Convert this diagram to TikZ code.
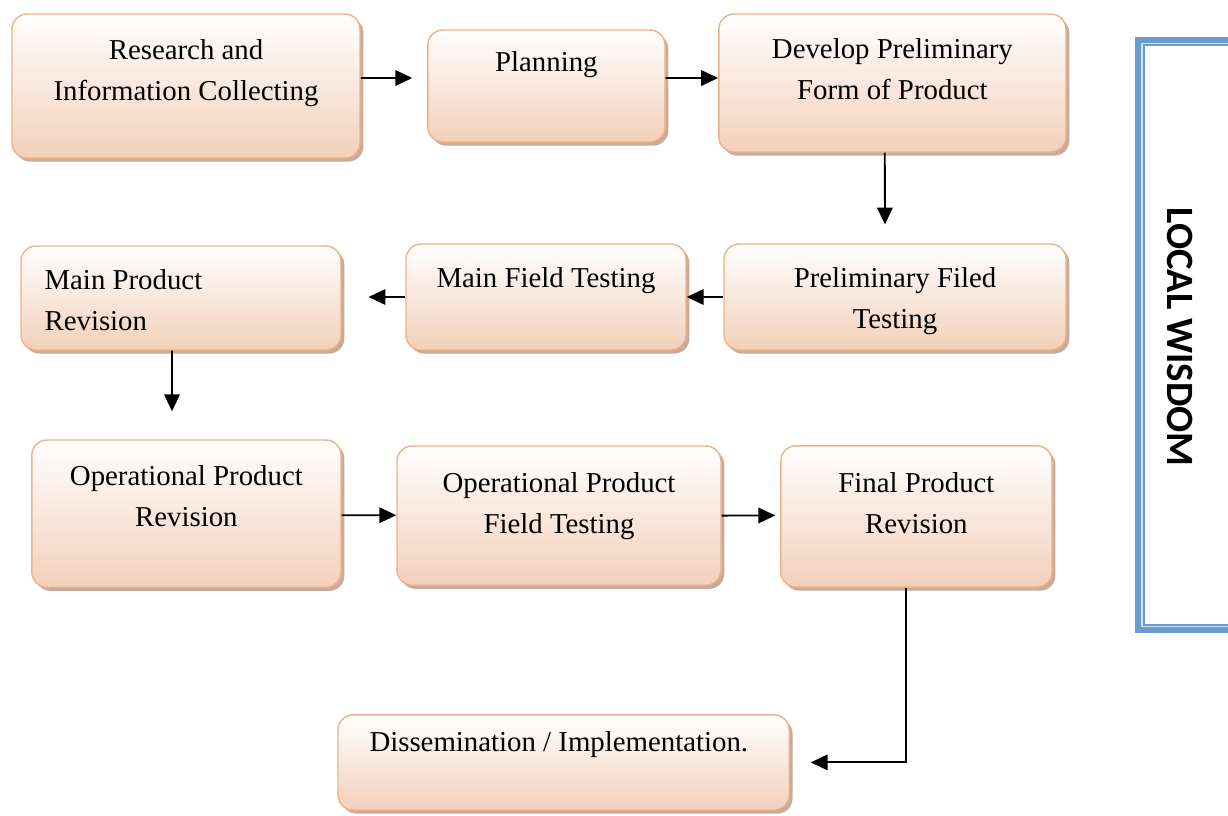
\documentclass[tikz,border=0pt]{standalone}
\usepackage{fontspec}
\setmainfont{Liberation Serif}
\newfontfamily\wisfont{Carlito}
\usepackage{tikz}
\usetikzlibrary{arrows.meta,positioning,shadows}
\usepackage{xcolor}
\definecolor{boxline}{RGB}{236,178,138}
\definecolor{peach}{RGB}{243,208,186}
\definecolor{shadowc}{RGB}{190,156,136}
\definecolor{wisblue}{RGB}{106,154,208}

\begin{document}
\begin{tikzpicture}[
  stage/.style={draw=boxline, line width=1pt, rounded corners=0.38cm, inner sep=0pt,
    top color=white, bottom color=peach,
    drop shadow={shadow xshift=2.4pt, shadow yshift=-2.6pt, fill=shadowc, opacity=0.85}},
  lbl/.style={font=\fontsize{20.5}{29}\selectfont, align=center, inner sep=0pt, anchor=north},
  arr/.style={-{Triangle[length=12pt,width=11pt]}, line width=1.3pt, black}]
  \clip (0,0) rectangle (30.7,-20.4);
  % first row
  \node[stage, minimum width=8.7cm, minimum height=3.6cm] (research) at (4.65,-2.15)
    [label={[lbl, yshift=-0.65cm]north:{Research and\\Information Collecting}}] {};
  \node[stage, minimum width=5.93cm, minimum height=2.8cm] (planning) at (13.66,-2.15)
    [label={[lbl, yshift=-0.55cm]north:{Planning}}] {};
  \node[stage, minimum width=8.68cm, minimum height=3.45cm] (develop) at (22.31,-2.075)
    [label={[lbl, yshift=-0.62cm]north:{Develop Preliminary\\Form of Product}}] {};
  % second row
  \node[stage, minimum width=8.55cm, minimum height=2.65cm] (prelim) at (22.375,-7.425)
    [label={[lbl, yshift=-0.6cm]north:{Preliminary Filed\\Testing}}] {};
  \node[stage, minimum width=7cm, minimum height=2.65cm] (mainfield) at (13.65,-7.425)
    [label={[lbl, yshift=-0.6cm]north:{Main Field Testing}}] {};
  \node[stage, minimum width=8cm, minimum height=2.6cm] (mainrev) at (4.525,-7.45)
    [label={[lbl, align=left, anchor=north west, xshift=0.6cm, yshift=-0.6cm]north west:{Main Product\\Revision}}] {};
  % third row
  \node[stage, minimum width=7.73cm, minimum height=3.68cm] (oprev) at (4.66,-12.84)
    [label={[lbl, yshift=-0.65cm]north:{Operational Product\\Revision}}] {};
  \node[stage, minimum width=8.1cm, minimum height=3.48cm] (opfield) at (13.975,-12.89)
    [label={[lbl, yshift=-0.68cm]north:{Operational Product\\Field Testing}}] {};
  \node[stage, minimum width=6.78cm, minimum height=3.53cm] (final) at (22.91,-12.91)
    [label={[lbl, yshift=-0.68cm]north:{Final Product\\Revision}}] {};
  % last step
  \node[stage, minimum width=11.28cm, minimum height=2.38cm] (dissem) at (14.09,-19.06)
    [label={[lbl, xshift=-0.12cm, yshift=-0.43cm]north:{Dissemination / Implementation.}}] {};
  % arrows
  \draw[arr, shorten >=0.37cm] ([yshift=0.2cm]research.east) -- ([yshift=0.2cm]planning.west);
  \draw[arr] ([yshift=0.2cm]planning.east) -- ([yshift=0.125cm]develop.west);
  \draw[arr, shorten >=0.47cm] ([xshift=-0.19cm]develop.south) -- ([xshift=-0.25cm]prelim.north);
  \draw[arr] (prelim.west) -- (mainfield.east);
  \draw[arr, shorten >=0.67cm] (mainfield.west) -- ([yshift=0.025cm]mainrev.east);
  \draw[arr, shorten >=0.7cm] ([xshift=-0.225cm]mainrev.south) -- ([xshift=-0.36cm]oprev.north);
  \draw[arr] ([yshift=-0.04cm]oprev.east) -- ([yshift=0.01cm]opfield.west);
  \draw[arr, shorten >=0.12cm] (opfield.east) -- ([yshift=0.025cm]final.west);
  \draw[arr, shorten >=0.52cm] ([xshift=-0.26cm]final.south) |- (dissem.east);
  % local wisdom frame
  \node[draw=wisblue, line width=5.7pt, minimum width=2.4cm, minimum height=14.7cm] (wisdom) at (29.675,-8.375) {};
  \draw[wisblue!30, line width=1.5pt] ([shift={(0.165,-0.165)}]wisdom.north west) rectangle ([shift={(-0.165,0.165)}]wisdom.south east);
  \draw[wisblue, line width=1.4pt] ([shift={(0.225,-0.2)}]wisdom.north west) rectangle ([shift={(-0.225,0.2)}]wisdom.south east);
  \node[rotate=-90, font=\wisfont\bfseries\fontsize{27.5}{32}\selectfont] (wisdomtext) at (29.5,-8.425) {LOCAL WISDOM};
\end{tikzpicture}
\end{document}
